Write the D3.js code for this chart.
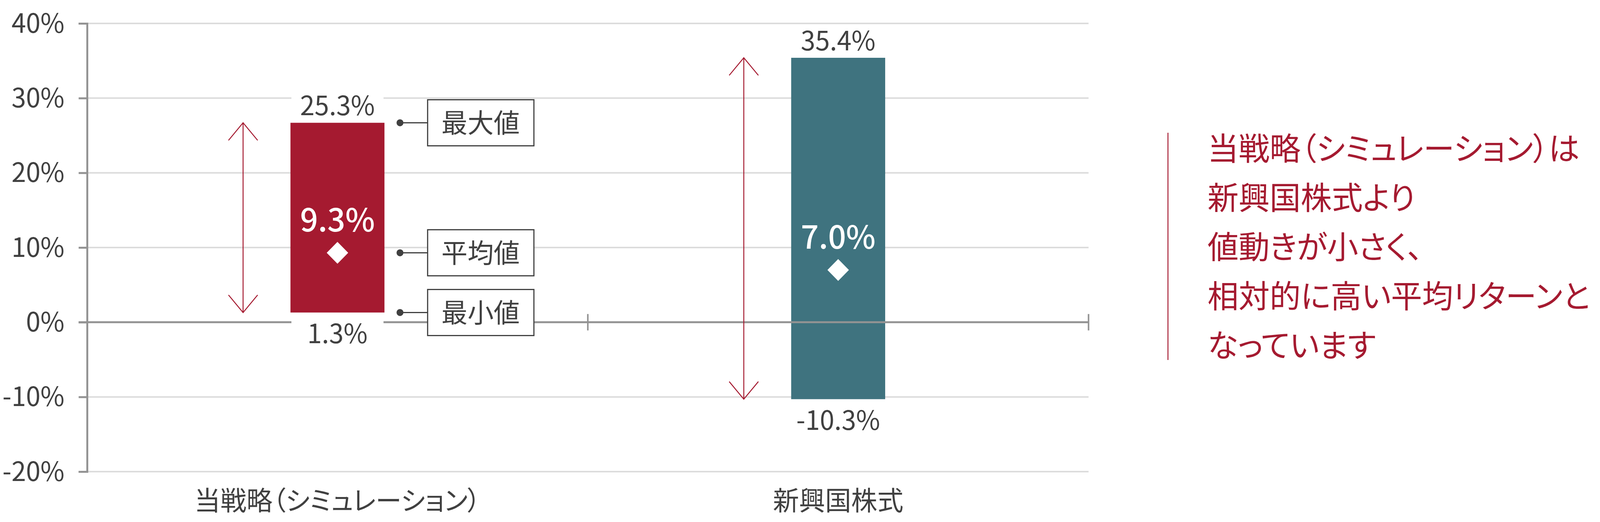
<!DOCTYPE html>
<html lang="ja">
<head>
<meta charset="UTF-8">
<title>当戦略と新興国株式のリターン</title>
<style>
html,body{margin:0; width:100vw; height:100vh; overflow:hidden; background:#fff;}
svg{display:block; width:100%; height:100%;}
text{font-family:"Noto Sans CJK JP","Noto Sans",sans-serif; font-feature-settings:"palt";}
</style>
</head>
<body>
<svg></svg>
<script src="https://d3js.org/d3.v7.min.js"></script>
<script>
const W = 4170, H = 1337;

const categories = ["当戦略（シミュレーション）", "新興国株式"];
const maxValues = [25.3, 35.4];
const minValues = [1.3, -10.3];
const meanValues = [9.3, 7.0];
// bar tops as they are drawn in the picture (first bar is drawn a bit above its label)
const barTops = [26.7, 35.4];
const yTicks = [-20, -10, 0, 10, 20, 30, 40];
const legendLabels = ["最大値", "平均値", "最小値"];
const noteLines = ["当戦略（シミュレーション）は", "新興国株式より", "値動きが小さく、", "相対的に高い平均リターンと", "なっています"];
const barColors = ["#a51a30", "#3f737f"];

const RED = "#a51a30", TXT = "#404040";

const svg = d3.select("svg").attr("viewBox", `0 0 ${W} ${H}`).attr("preserveAspectRatio", "none");

const y = d3.scaleLinear().domain([-20, 40]).range([1208, 60]);
const x = d3.scaleBand().domain(categories).range([227, 2837]);
const cx = c => x(c) + x.bandwidth() / 2;
const barW = 245;
const fmt = v => v.toFixed(1) + "%";

// gridlines
svg.append("g").selectAll("line").data(yTicks.filter(t => t !== 0)).join("line")
  .attr("x1", 227).attr("x2", 2837)
  .attr("y1", d => y(d)).attr("y2", d => y(d))
  .attr("stroke", "#dcdcdc").attr("stroke-width", 4);

// y axis
const yAxis = svg.append("g").attr("transform", "translate(227,0)")
  .call(d3.axisLeft(y).tickValues(yTicks).tickSize(22).tickPadding(14).tickFormat(d => d + "%"));
yAxis.select(".domain").attr("stroke", "#939393").attr("stroke-width", 5);
yAxis.selectAll(".tick line").attr("stroke", "#939393").attr("stroke-width", 5);
yAxis.selectAll(".tick text").attr("fill", TXT).style("font-size", "68px").attr("dy", "0.34em").attr("x", -59);

// bars
svg.append("g").selectAll("rect").data(categories).join("rect")
  .attr("x", d => cx(d) - barW / 2)
  .attr("width", barW)
  .attr("y", (d, i) => y(barTops[i]))
  .attr("height", (d, i) => y(minValues[i]) - y(barTops[i]))
  .attr("fill", (d, i) => barColors[i]);

// zero line with category separators
const zero = svg.append("g");
zero.append("line").attr("x1", 205).attr("x2", 2837).attr("y1", y(0)).attr("y2", y(0))
  .attr("stroke", "#939393").attr("stroke-width", 5);
zero.selectAll("line.sep").data(categories).join("line").attr("class", "sep")
  .attr("x1", d => x(d) + x.bandwidth()).attr("x2", d => x(d) + x.bandwidth())
  .attr("y1", y(0) - 21).attr("y2", y(0) + 21)
  .attr("stroke", "#939393").attr("stroke-width", 4);

// range arrows
const arrows = svg.append("g").attr("stroke", RED).attr("stroke-width", 2.5).attr("fill", "none");
categories.forEach((c, i) => {
  const ax = cx(c) - 246, t = y(barTops[i]), b = y(minValues[i]);
  arrows.append("line").attr("x1", ax).attr("x2", ax).attr("y1", t).attr("y2", b);
  arrows.append("path").attr("d", `M${ax - 38},${t + 45}L${ax},${t}L${ax + 38},${t + 45}`);
  arrows.append("path").attr("d", `M${ax - 38},${b - 45}L${ax},${b}L${ax + 38},${b - 45}`);
});

// max / min labels with white backing
const labels = svg.append("g");
categories.forEach((c, i) => {
  const items = [
    {v: maxValues[i], base: y(barTops[i]) - 19},
    {v: minValues[i], base: y(minValues[i]) + 79}
  ];
  items.forEach(it => {
    labels.append("rect").attr("x", cx(c) - 120).attr("width", 240)
      .attr("y", it.base - 60).attr("height", 70).attr("fill", "#fff");
    labels.append("text").attr("x", cx(c)).attr("y", it.base)
      .attr("text-anchor", "middle").attr("fill", TXT).style("font-size", "68px")
      .text(fmt(it.v));
  });
  // mean marker and label
  const my = y(meanValues[i]);
  labels.append("path").attr("d", `M${cx(c)},${my - 28}L${cx(c) + 28},${my}L${cx(c)},${my + 28}L${cx(c) - 28},${my}Z`)
    .attr("fill", "#fff");
  labels.append("text").attr("x", cx(c)).attr("y", my - 54)
    .attr("text-anchor", "middle").attr("fill", "#fff")
    .style("font-size", "82px").style("font-weight", 500)
    .text(fmt(meanValues[i]));
});

// legend for first bar
const c0 = categories[0];
const legendY = [y(barTops[0]), y(meanValues[0]), y(minValues[0])];
const lg = svg.append("g").selectAll("g").data(legendLabels).join("g")
  .attr("transform", (d, i) => `translate(${cx(c0)},${legendY[i]})`);
lg.append("line").attr("x1", 163).attr("x2", 235).attr("stroke", TXT).attr("stroke-width", 3);
lg.append("circle").attr("cx", 163).attr("r", 9).attr("fill", TXT);
lg.append("rect").attr("x", 235).attr("y", -59).attr("width", 277).attr("height", 118)
  .attr("fill", "#fff").attr("stroke", TXT).attr("stroke-width", 3);
lg.append("text").attr("x", 373).attr("y", 26).attr("text-anchor", "middle")
  .attr("fill", TXT).style("font-size", "68px").text(d => d);

// category labels
svg.append("g").selectAll("text").data(categories).join("text")
  .attr("x", d => cx(d)).attr("y", 1307).attr("text-anchor", "middle")
  .attr("fill", TXT).style("font-size", "68px").text(d => d);

// side note
svg.append("line").attr("x1", 3044).attr("x2", 3044).attr("y1", 340).attr("y2", 922)
  .attr("stroke", RED).attr("stroke-width", 2.5);
svg.append("g").selectAll("text").data(noteLines).join("text")
  .attr("x", 3147).attr("y", (d, i) => 410 + i * 126)
  .attr("fill", RED).style("font-size", "81px").text(d => d);
</script>
</body>
</html>
